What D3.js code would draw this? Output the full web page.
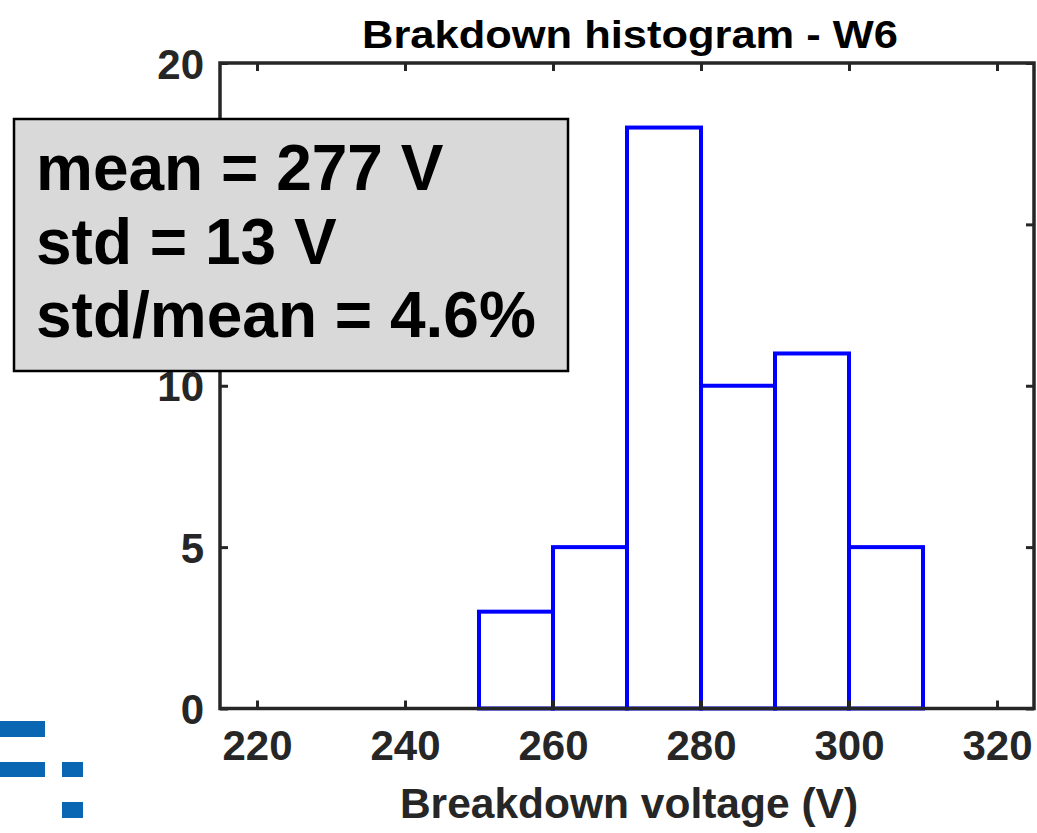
<!DOCTYPE html>
<html>
<head>
<meta charset="utf-8">
<script src="https://cdn.jsdelivr.net/npm/d3@7/dist/d3.min.js"></script>
<style>
html,body{margin:0;padding:0;background:#fff;}
svg{display:block;}
text{font-family:"Liberation Sans",Arial,Helvetica,sans-serif;font-weight:bold;}
</style>
</head>
<body>
<svg id="chart" width="1037" height="833"></svg>
<script>
// ---- data ----
const binEdges = [250, 260, 270, 280, 290, 300, 310];
const binCounts = [3, 5, 18, 10, 11, 5];
const xTicks = [220, 240, 260, 280, 300, 320];
const yTicks = [0, 5, 10, 15, 20];
const titleText = "Brakdown histogram - W6";
const xLabelText = "Breakdown voltage (V)";
const statsLines = ["mean = 277 V", "std = 13 V", "std/mean = 4.6%"];

// ---- layout ----
const svg = d3.select("#chart");
const L = 220, R = 1034, T = 63, B = 708.5;
const x = d3.scaleLinear().domain([215, 325]).range([L, R]);
const y = d3.scaleLinear().domain([0, 20]).range([B, T]);
const axisColor = "#262626";

// decorative logo fragment bottom-left
const logo = svg.append("g").attr("fill", "#0a66b3");
[[0,721,45,16],[0,762,45,15],[62,762,21,15],[62,802,21,16]].forEach(r=>{
  logo.append("rect").attr("x",r[0]).attr("y",r[1]).attr("width",r[2]).attr("height",r[3]);
});

// bars
const bins = binCounts.map((c,i)=>({x0:binEdges[i], x1:binEdges[i+1], c}));
svg.append("g").selectAll("rect").data(bins).join("rect")
  .attr("x", d=>x(d.x0)).attr("y", d=>y(d.c))
  .attr("width", d=>x(d.x1)-x(d.x0)).attr("height", d=>y(0)-y(d.c))
  .attr("fill","none").attr("stroke","#0000ff").attr("stroke-width",4);

// axes (MATLAB style box with inward ticks)
const tickLen = 8;
const gx = svg.append("g").attr("transform",`translate(0,${B})`)
  .call(d3.axisBottom(x).tickValues(xTicks).tickSizeInner(-tickLen).tickSizeOuter(0).tickPadding(22));
const gxTop = svg.append("g").attr("transform",`translate(0,${T})`)
  .call(d3.axisTop(x).tickValues(xTicks).tickSizeInner(-tickLen).tickSizeOuter(0).tickFormat(""));
const gy = svg.append("g").attr("transform",`translate(${L},0)`)
  .call(d3.axisLeft(y).tickValues(yTicks).tickSizeInner(-tickLen).tickSizeOuter(0).tickPadding(16));
const gyR = svg.append("g").attr("transform",`translate(${R},0)`)
  .call(d3.axisRight(y).tickValues(yTicks).tickSizeInner(-tickLen).tickSizeOuter(0).tickFormat(""));
[gx,gxTop,gy,gyR].forEach(g=>{
  g.select(".domain").remove();
  g.selectAll(".tick line").attr("stroke",axisColor).attr("stroke-width",3);
  g.selectAll(".tick text").attr("fill",axisColor).style("font-size","42px")
   .style("font-family",'"Liberation Sans",Arial,sans-serif').style("font-weight","bold");
});
gx.selectAll(".tick text").attr("dy","0.71em");
gy.selectAll(".tick text").attr("dy","0.36em");
svg.append("rect").attr("x",L).attr("y",T).attr("width",R-L).attr("height",B-T)
  .attr("fill","none").attr("stroke",axisColor).attr("stroke-width",3.5);

// title and label
svg.append("text").attr("x",(L+R)/2+3).attr("y",48).attr("text-anchor","middle")
  .attr("fill","#000").style("font-size","39px").attr("textLength",536).attr("lengthAdjust","spacingAndGlyphs")
  .text(titleText);
svg.append("text").attr("x",(L+R)/2+2).attr("y",818).attr("text-anchor","middle")
  .attr("fill",axisColor).style("font-size","42.5px").text(xLabelText);

// stats box
const box = svg.append("g");
box.append("rect").attr("x",14).attr("y",119).attr("width",554).attr("height",252)
  .attr("fill","#d9d9d9").attr("stroke","#000").attr("stroke-width",2.5);
box.selectAll("text").data(statsLines).join("text")
  .attr("x",36).attr("y",(d,i)=>190+i*73.5).attr("fill","#000")
  .style("font-size","64px").text(d=>d);
</script>
</body>
</html>
